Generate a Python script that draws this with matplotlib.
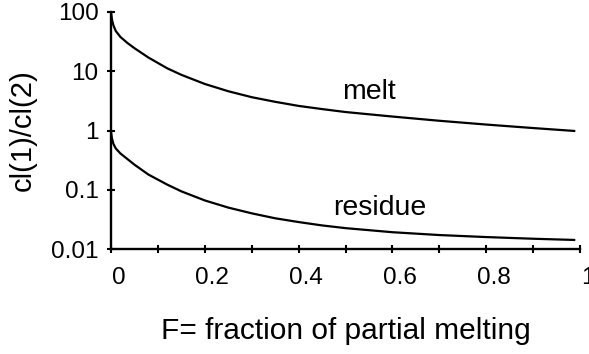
import matplotlib
matplotlib.use("Agg")
import matplotlib.pyplot as plt
import matplotlib.transforms as mtransforms
from matplotlib.ticker import FixedLocator, NullLocator

F = [0, 0.002, 0.005, 0.01, 0.02, 0.035, 0.05, 0.08, 0.12, 0.15, 0.2, 0.25,
     0.3, 0.35, 0.4, 0.45, 0.5, 0.6, 0.7, 0.8, 0.9, 0.99]
melt = [100, 75, 60, 48, 38, 30, 24.5, 17, 11.2, 8.7, 6.1, 4.6,
        3.65, 3.05, 2.6, 2.3, 2.05, 1.72, 1.46, 1.26, 1.1, 0.98]
residue = [0.95, 0.74, 0.6, 0.5, 0.41, 0.33, 0.265, 0.18, 0.122, 0.094, 0.066, 0.05,
           0.04, 0.033, 0.0285, 0.025, 0.0225, 0.0192, 0.0172, 0.0159, 0.0149, 0.0142]

x_ticks = [0, 0.1, 0.2, 0.3, 0.4, 0.5, 0.6, 0.7, 0.8, 0.9, 1.0]
x_labels = ["0", "", "0.2", "", "0.4", "", "0.6", "", "0.8", "", "1"]
y_ticks = [0.01, 0.1, 1, 10, 100]
y_labels = ["0.01", "0.1", "1", "10", "100"]

plt.rcParams['font.family'] = ['Liberation Sans', 'DejaVu Sans']

W, H = 589, 354
fig = plt.figure(figsize=(W / 100, H / 100), dpi=100)
ax = fig.add_axes([111 / W, 1 - 249 / H, (580 - 111) / W, (249 - 12) / H])

ax.plot(F, melt, color='black', lw=1.6, clip_on=False, solid_capstyle='butt')
ax.plot(F, residue, color='black', lw=1.6, clip_on=False, solid_capstyle='butt')

ax.set_yscale('log')
ax.set_xlim(0, 1)
ax.set_ylim(0.01, 100)

ax.xaxis.set_major_locator(FixedLocator(x_ticks))
ax.set_xticklabels(x_labels)
ax.yaxis.set_major_locator(FixedLocator(y_ticks))
ax.yaxis.set_minor_locator(NullLocator())
ax.set_yticklabels(y_labels)

for s in ['top', 'right']:
    ax.spines[s].set_visible(False)
for s in ['left', 'bottom']:
    ax.spines[s].set_linewidth(1.7)

ax.tick_params(axis='both', direction='inout', length=5.8, width=1.5,
               labelsize=17.5, colors='black')
ax.tick_params(axis='x', pad=10)
ax.tick_params(axis='y', pad=6)

offset = mtransforms.ScaledTranslation(0.075, 0, fig.dpi_scale_trans)
for lab in ax.get_xticklabels():
    lab.set_transform(lab.get_transform() + offset)

ax.set_xlabel("F= fraction of partial melting", fontsize=21.5, labelpad=20)
ax.set_ylabel("cl(1)/cl(2)", fontsize=21, labelpad=10)

ax.text(0.4925, 3.46, "melt", fontsize=20.5, ha='left', va='baseline')
ax.text(0.473, 0.037, "residue", fontsize=20.5, ha='left', va='baseline')

fig.savefig("out.png", dpi=100)
